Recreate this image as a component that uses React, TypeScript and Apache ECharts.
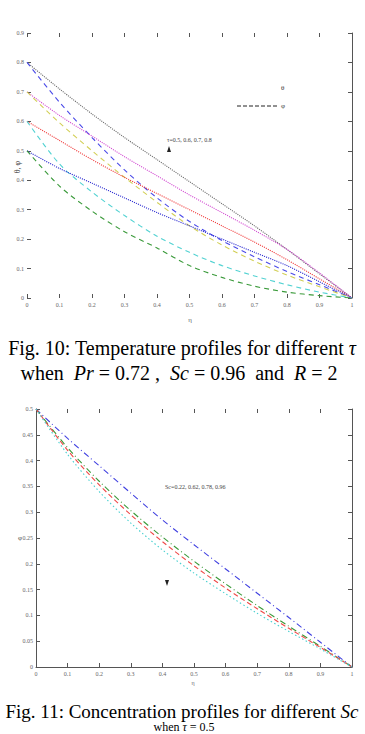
import React, { useEffect, useRef } from "react";
import * as echarts from "echarts";

// η sample points shared by every profile
const ETA = [0, 0.1, 0.2, 0.3, 0.4, 0.5, 0.6, 0.7, 0.8, 0.9, 1];

// Fig. 10 — temperature (θ, dotted) and concentration (φ, dashed) for τ = 0.5 … 0.8
const thetaTau08 = [0.8, 0.71, 0.625, 0.545, 0.47, 0.395, 0.32, 0.245, 0.165, 0.082, 0];
const phiTau08 = [0.8, 0.665, 0.545, 0.435, 0.34, 0.26, 0.195, 0.14, 0.09, 0.045, 0];
const thetaTau07 = [0.7, 0.62, 0.55, 0.48, 0.415, 0.35, 0.29, 0.23, 0.165, 0.085, 0];
const phiTau07 = [0.7, 0.595, 0.5, 0.41, 0.325, 0.245, 0.18, 0.125, 0.078, 0.038, 0];
const thetaTau06 = [0.6, 0.535, 0.47, 0.41, 0.355, 0.3, 0.245, 0.19, 0.13, 0.065, 0];
const phiTau06 = [0.6, 0.455, 0.36, 0.28, 0.21, 0.155, 0.11, 0.075, 0.045, 0.02, 0];
const thetaTau05 = [0.5, 0.44, 0.39, 0.34, 0.29, 0.245, 0.2, 0.155, 0.11, 0.055, 0];
const phiTau05 = [0.5, 0.38, 0.295, 0.225, 0.17, 0.11, 0.07, 0.04, 0.02, 0.008, 0];

// Fig. 11 — concentration for Sc = 0.22, 0.62, 0.78, 0.96
const phiSc022 = [0.5, 0.443, 0.39, 0.337, 0.285, 0.237, 0.19, 0.143, 0.096, 0.048, 0];
const phiSc062 = [0.5, 0.425, 0.36, 0.303, 0.252, 0.205, 0.161, 0.119, 0.079, 0.04, 0];
const phiSc078 = [0.5, 0.42, 0.353, 0.295, 0.243, 0.196, 0.153, 0.113, 0.075, 0.038, 0];
const phiSc096 = [0.5, 0.412, 0.34, 0.279, 0.227, 0.182, 0.142, 0.104, 0.069, 0.035, 0];

const TOP_Y_TICKS = ["0", "0.1", "0.2", "0.3", "0.4", "0.5", "0.6", "0.7", "0.8", "0.9"];
const BOTTOM_Y_TICKS = ["0", "0.05", "0.1", "0.15", "0.2", "0.25", "0.3", "0.35", "0.4", "0.45", "0.5"];
const X_TICKS = ["0", "0.1", "0.2", "0.3", "0.4", "0.5", "0.6", "0.7", "0.8", "0.9", "1"];

const SERIF = "'Liberation Serif', 'DejaVu Serif', serif";
const AXIS = "#555";
const LABEL = { fontSize: 6, color: "#666", fontFamily: SERIF };

const pairs = (ys: number[]) => ETA.map((x, i) => [x, ys[i]]);

const line = (
  name: string,
  ys: number[],
  color: string,
  type: any,
  grid: number
) => ({
  name,
  type: "line",
  xAxisIndex: grid === 0 ? 0 : 2,
  yAxisIndex: grid === 0 ? 0 : 2,
  data: pairs(ys),
  smooth: 0.3,
  showSymbol: false,
  lineStyle: { color, width: 1.1, type },
});

const tickLabel = (list: string[], step: number) => (v: number) => {
  const i = Math.round(v / step);
  return list[i] ?? "";
};

export default function App() {
  const ref = useRef<HTMLDivElement>(null);

  useEffect(() => {
    if (!ref.current) return;
    const chart = echarts.init(ref.current, null, { renderer: "svg" });

    const xBase = (gridIndex: number, position: "top" | "bottom", labels: boolean, lineShown: boolean) => ({
      type: "value",
      gridIndex,
      position,
      min: 0,
      max: 1,
      interval: 0.1,
      splitLine: { show: false },
      axisLine: { show: lineShown, onZero: false, lineStyle: { color: AXIS, width: 1 } },
      axisTick: { show: true, inside: true, length: 4, lineStyle: { color: AXIS } },
      axisLabel: labels
        ? { ...LABEL, margin: 4, formatter: tickLabel(X_TICKS, 0.1) }
        : { show: false },
    });

    const yBase = (
      gridIndex: number,
      position: "left" | "right",
      max: number,
      interval: number,
      labels: string[] | null,
      lineShown: boolean
    ) => ({
      type: "value",
      gridIndex,
      position,
      min: 0,
      max,
      interval,
      splitLine: { show: false },
      axisLine: { show: lineShown, onZero: false, lineStyle: { color: AXIS, width: 1 } },
      axisTick: { show: true, inside: true, length: 4, lineStyle: { color: AXIS } },
      axisLabel: labels
        ? { ...LABEL, margin: 3, formatter: tickLabel(labels, interval) }
        : { show: false },
    });

    const rich = (size: number) => ({
      n: { fontFamily: SERIF, fontSize: size, color: "#111" },
      i: { fontFamily: SERIF, fontSize: size, color: "#111", fontStyle: "italic" },
    });

    chart.setOption({
      animation: false,
      backgroundColor: "#fff",
      grid: [
        { left: 27, top: 33, width: 325, height: 265 },
        { left: 36, top: 409, width: 316, height: 258 },
      ],
      xAxis: [
        xBase(0, "bottom", true, false),
        xBase(0, "top", false, false),
        xBase(1, "bottom", true, true),
        xBase(1, "top", false, false),
      ],
      yAxis: [
        yBase(0, "left", 0.9, 0.1, TOP_Y_TICKS, false),
        yBase(0, "right", 0.9, 0.1, null, true),
        yBase(1, "left", 0.5, 0.05, BOTTOM_Y_TICKS, true),
        yBase(1, "right", 0.5, 0.05, null, true),
      ],
      series: [
        line("θ τ=0.8", thetaTau08, "#6a6a6a", "dotted", 0),
        line("φ τ=0.8", phiTau08, "#4a4ae8", [5, 4], 0),
        line("θ τ=0.7", thetaTau07, "#d24ad2", "dotted", 0),
        line("φ τ=0.7", phiTau07, "#d2cf55", [5, 4], 0),
        line("θ τ=0.6", thetaTau06, "#f03c3c", "dotted", 0),
        line("φ τ=0.6", phiTau06, "#52d2d2", [5, 4], 0),
        line("θ τ=0.5", thetaTau05, "#2a2ad0", "dotted", 0),
        line("φ τ=0.5", phiTau05, "#3a9a3a", [5, 4], 0),
        line("Sc=0.22", phiSc022, "#4040e0", [6, 3, 1, 3], 1),
        line("Sc=0.62", phiSc062, "#3a9a3a", [6, 3, 1, 3], 1),
        line("Sc=0.78", phiSc078, "#f04848", [5, 3], 1),
        line("Sc=0.96", phiSc096, "#48d0d0", [1.5, 2.5], 1),
      ],
      graphic: [
        // Fig. 10 annotations
        { type: "text", x: 281, y: 88, style: { text: "θ", fontSize: 7, fontFamily: SERIF, fill: "#333", verticalAlign: "middle" } },
        { type: "line", shape: { x1: 237, y1: 106, x2: 277, y2: 106 }, style: { stroke: "#222", lineWidth: 1, lineDash: [4, 2] } },
        { type: "text", x: 281, y: 106, style: { text: "φ", fontSize: 7, fontFamily: SERIF, fill: "#333", verticalAlign: "middle" } },
        { type: "text", x: 167, y: 140, style: { text: "τ=0.5, 0.6, 0.7, 0.8", fontSize: 6, fontFamily: SERIF, fill: "#444", verticalAlign: "middle" } },
        { type: "polygon", shape: { points: [[169, 146], [167, 152], [171, 152]] }, style: { fill: "#222" } },
        { type: "text", x: 17, y: 167, rotation: Math.PI / 2, style: { text: "θ, φ", fontSize: 8, fontFamily: SERIF, fill: "#444", align: "center", verticalAlign: "middle" } },
        { type: "text", x: 190, y: 320, style: { text: "η", fontSize: 7, fontFamily: SERIF, fill: "#666", align: "center", verticalAlign: "middle" } },
        {
          type: "text",
          x: 182,
          y: 348,
          style: { text: "{n|Fig. 10: Temperature profiles for different }{i|τ}", rich: rich(20), align: "center", verticalAlign: "middle" },
        },
        {
          type: "text",
          x: 179,
          y: 373,
          style: {
            text: "{n|when  }{i|Pr}{n| = 0.72 ,  }{i|Sc}{n| = 0.96  and  }{i|R}{n| = 2}",
            rich: rich(20),
            align: "center",
            verticalAlign: "middle",
          },
        },
        // Fig. 11 annotations
        { type: "text", x: 165, y: 487, style: { text: "Sc=0.22, 0.62, 0.78, 0.96", fontSize: 6, fontFamily: SERIF, fill: "#444", verticalAlign: "middle" } },
        { type: "polygon", shape: { points: [[165, 580], [169, 580], [167, 586]] }, style: { fill: "#222" } },
        { type: "text", x: 20, y: 538, style: { text: "φ", fontSize: 7, fontFamily: SERIF, fill: "#444", align: "center", verticalAlign: "middle" } },
        { type: "text", x: 193, y: 683, style: { text: "η", fontSize: 6, fontFamily: SERIF, fill: "#666", align: "center", verticalAlign: "middle" } },
        {
          type: "text",
          x: 182,
          y: 711,
          style: { text: "{n|Fig. 11: Concentration profiles for different }{i|Sc}", rich: rich(19), align: "center", verticalAlign: "middle" },
        },
        {
          type: "text",
          x: 184,
          y: 727,
          style: { text: "{n|when }{i|τ}{n| = 0.5}", rich: rich(12), align: "center", verticalAlign: "middle" },
        },
      ],
    });

    return () => chart.dispose();
  }, []);

  return (
    <div
      ref={ref}
      style={{ position: "fixed", left: 0, top: 0, width: 365, height: 734, background: "#fff" }}
    />
  );
}
